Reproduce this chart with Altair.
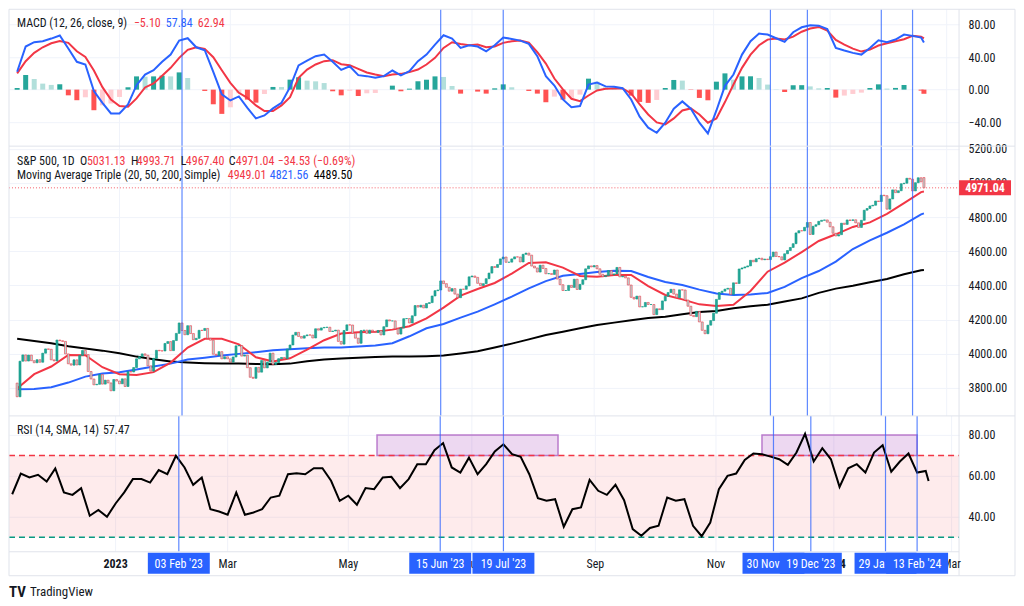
import altair as alt
import pandas as pd

FONT = "Liberation Sans Narrow, Arial Narrow, Roboto Condensed, DejaVu Sans Condensed, Roboto, sans-serif"
TXT = "#131722"
RED = "#F23645"
BLUE = "#2962FF"
GREEN = "#089981"
GRID = "#f0f3fa"
FRAME = "#e0e3eb"

W = 951
H_MACD, H_PRICE, H_RSI = 137, 270, 136
X_DOMAIN = [-1.11, 329.6]
MACD_DOMAIN = [-69.5, 98.8]
PRICE_DOMAIN = [3636, 5215]
RSI_DOMAIN = [22.9, 89.3]

HOLIDAYS = ["2022-11-24", "2022-12-26", "2023-01-02", "2023-01-16", "2023-02-20",
            "2023-04-07", "2023-05-29", "2023-06-19", "2023-07-04", "2023-09-04",
            "2023-11-23", "2023-12-25", "2024-01-01", "2024-01-15", "2024-02-19"]

# ---- daily closes (S&P 500), by month ----
CLOSE_NOV22 = [3748, 3956, 3993, 3957, 3992, 3959, 3947, 3965, 3950, 4003, 4028, 4026, 3964, 3958, 4080]
CLOSE_DEC22 = [4076, 4072, 3999, 3941, 3933, 3964, 3934, 3990, 4019, 3995, 3896, 3852, 3818, 3821, 3878,
               3822, 3845, 3829, 3783, 3849, 3840]
CLOSE_JAN23 = [3824, 3853, 3808, 3895, 3893, 3919, 3970, 3983, 3999, 3991, 3929, 3898, 3973, 4020, 4017,
               4016, 4060, 4071, 4018, 4077]
CLOSE_FEB23 = [4119, 4180, 4136, 4111, 4164, 4118, 4082, 4090, 4137, 4136, 4148, 4090, 4079, 3997, 3991,
               4012, 3970, 3982, 3970]
CLOSE_MAR23 = [3951, 3981, 4046, 4048, 3986, 3992, 3918, 3862, 3856, 3920, 3892, 3960, 3917, 3951, 4003,
               3937, 3948, 3971, 3978, 3971, 4027, 4051, 4109]
CLOSE_APR23 = [4125, 4101, 4091, 4105, 4110, 4109, 4092, 4146, 4138, 4151, 4154, 4155, 4130, 4133, 4138,
               4072, 4056, 4136, 4169]
CLOSE_MAY23 = [4168, 4120, 4091, 4061, 4136, 4138, 4119, 4138, 4130, 4124, 4136, 4110, 4158, 4198, 4192,
               4192, 4146, 4115, 4151, 4205, 4206, 4180]
CLOSE_JUN23 = [4222, 4282, 4273, 4284, 4268, 4294, 4299, 4338, 4369, 4373, 4426, 4410, 4389, 4366, 4381,
               4349, 4328, 4378, 4377, 4397, 4450]
CLOSE_JUL23 = [4455, 4447, 4412, 4399, 4410, 4439, 4472, 4510, 4505, 4522, 4555, 4566, 4535, 4536, 4555,
               4567, 4566, 4537, 4582, 4589]
CLOSE_AUG23 = [4577, 4513, 4502, 4478, 4518, 4499, 4468, 4469, 4464, 4490, 4437, 4404, 4370, 4370, 4400,
               4388, 4436, 4376, 4406, 4433, 4497, 4514, 4508]
CLOSE_SEP23 = [4516, 4497, 4465, 4451, 4457, 4487, 4462, 4467, 4505, 4450, 4454, 4444, 4402, 4330, 4320,
               4337, 4274, 4275, 4300, 4288]
CLOSE_OCT23 = [4288, 4229, 4263, 4258, 4309, 4336, 4358, 4377, 4349, 4328, 4374, 4373, 4314, 4278, 4224,
               4217, 4248, 4186, 4137, 4117, 4167, 4194]
CLOSE_NOV23 = [4237, 4318, 4358, 4366, 4378, 4383, 4347, 4415, 4411, 4496, 4502, 4508, 4514, 4547, 4538,
               4556, 4559, 4550, 4554, 4551, 4568]
CLOSE_DEC23 = [4595, 4569, 4567, 4549, 4585, 4604, 4622, 4644, 4707, 4720, 4719, 4740, 4768, 4698, 4746,
               4755, 4775, 4781, 4783, 4770]
CLOSE_JAN24 = [4743, 4705, 4689, 4697, 4764, 4757, 4783, 4780, 4784, 4766, 4739, 4781, 4840, 4850, 4865,
               4869, 4894, 4891, 4928, 4925, 4846]
CLOSE_FEB24 = [4906, 4959, 4943, 4954, 4995, 4998, 5027, 5022, 4953, 5001, 5030, 5006, 4971.04]
FIRST_OPEN = 3828
LAST_OPEN = 5031.13

MONTH_KEYS = ["2022-11", "2022-12", "2023-01", "2023-02", "2023-03", "2023-04", "2023-05", "2023-06",
              "2023-07", "2023-08", "2023-09", "2023-10", "2023-11", "2023-12", "2024-01", "2024-02"]
MONTH_CLOSES = [CLOSE_NOV22, CLOSE_DEC22, CLOSE_JAN23, CLOSE_FEB23, CLOSE_MAR23, CLOSE_APR23, CLOSE_MAY23,
                CLOSE_JUN23, CLOSE_JUL23, CLOSE_AUG23, CLOSE_SEP23, CLOSE_OCT23, CLOSE_NOV23, CLOSE_DEC23,
                CLOSE_JAN24, CLOSE_FEB24]

# ---- indicators read at every 3rd bar (plus the last bar) ----
MACD = [22, 53, 58.3, 59.5, 62.8, 66.5, 50.5, 34.2, 30.9, -1.8, -16.2, -29.2, -29.2, -18.2, 5.5, 18.6,
        23.9, 34.2, 43.1, 60.3, 63.2, 52.1, 48.5, 21.9, -5.9, -13.3, -8.4, -22.3, -35.4, -31.7, -23.1,
        -16.2, 3.1, 29.7, 35.8, 41.1, 43.1, 34.2, 24.3, 28.8, 17.8, 16.6, 14.5, 16.6, 23.5, 17.4, 22.7,
        35, 43.1, 55.4, 66.9, 62.8, 51.3, 54.6, 53, 47.2, 54.6, 64, 62.4, 60.3, 56.2, 41.1, 16.6, 5.1,
        -12.1, -21.5, -20.2, 6.3, 8.8, 4, 3.5, 1.8, -12.1, -33.3, -46.8, -53, -40.7, -23.5, -14.5, -23.5,
        -40.7, -53.8, -25.6, 4.7, 18.6, 43.1, 59.5, 68.9, 67.7, 63.2, 58.7, 70.6, 76.7, 79.1, 78.7, 74.6,
        51.3, 48.1, 45.2, 43.1, 51.3, 60.7, 58.3, 61.6, 67.7, 66.1, 64, 57.84]
SIGNAL = [20, 35, 45.2, 52.1, 57, 59.9, 57.5, 47.2, 40.3, 23.5, 3.1, -12.1, -20.2, -21.1, -10.8, 2.7,
          7.6, 17, 26.8, 39.1, 48.9, 52.1, 50.1, 39.9, 23.9, 8.4, -3.9, -10, -19.4, -26.4, -26.4, -19.4,
          -9.2, 14.5, 24.7, 30.9, 35, 36.2, 31.3, 30.1, 25.6, 21.1, 18.6, 16.6, 18.6, 19.4, 21.5, 24.7,
          30.9, 39.1, 51.3, 58.3, 56.2, 54.6, 55.4, 52.1, 53, 57.5, 59.5, 60.3, 57.8, 46, 32.1, 13.7, 0.2,
          -11.2, -14.1, -7.2, -1, 1.2, 1.4, 1.4, -4.7, -18.2, -30.5, -40.3, -42.7, -35.4, -25.6, -23.1,
          -30.5, -40.7, -35.4, -15.3, 6.3, 26.8, 43.1, 54.6, 61.5, 62.8, 61.6, 65.2, 71.2, 75.1, 77.1,
          72.6, 61.1, 55.4, 50.5, 46.8, 49.3, 54.2, 57, 59.5, 62, 66.1, 65.2, 62.94]
RSI = [51, 61.1, 59.2, 60.5, 57.2, 63.6, 51.9, 50.7, 54, 40.5, 43.3, 40, 46.5, 51.9, 58.4, 58.4, 56.7,
       62.8, 60.8, 69.8, 64.1, 55.6, 59.2, 43.7, 42.6, 41, 51.9, 41, 42.1, 43.7, 49.4, 50.3, 60.8, 61.3,
       60.8, 63.7, 63.7, 57.6, 47.8, 50.3, 45.9, 54, 53.5, 59.2, 59.5, 54, 58.4, 65.7, 65.7, 72.5, 76,
       64.1, 61.6, 68.9, 60.8, 65.7, 71.9, 75.4, 70.6, 69.3, 60.8, 49.1, 47.8, 48.6, 35.1, 43.7, 44.6, 58,
       52.7, 50.7, 55.6, 48.1, 34, 30.7, 34.5, 35.6, 49.4, 47.8, 48.6, 35.6, 30.5, 37.2, 53.5, 60, 61.1,
       67.8, 70.9, 70.6, 69.4, 68.1, 65.4, 71.4, 80.5, 67, 73.5, 68.1, 54.6, 63.7, 65.7, 61.6, 71.4, 75,
       62, 67, 70.9, 61.6, 62.4, 57.47]
IND_IDX = list(range(0, 319, 3)) + [319]

# ---- moving averages read at every 6th bar (plus the last bar) ----
MA20 = [3796, 3880, 3925, 3993, 3991, 3921, 3880, 3876, 3892, 3948, 4036, 4087, 4087, 4055, 3979, 3954,
        3973, 4024, 4079, 4118, 4126, 4129, 4141, 4161, 4207, 4270, 4340, 4379, 4414, 4469, 4531, 4535,
        4504, 4455, 4451, 4461, 4461, 4396, 4344, 4318, 4289, 4280, 4287, 4367, 4480, 4533, 4595, 4660,
        4699, 4742, 4769, 4819, 4882, 4946, 4949.01]
MA50 = [3792, 3794, 3804, 3831, 3866, 3884, 3892, 3907, 3925, 3942, 3966, 3977, 3989, 3999, 4009, 4020,
        4026, 4032, 4036, 4036, 4042, 4048, 4061, 4102, 4149, 4174, 4211, 4246, 4289, 4334, 4382, 4425,
        4456, 4467, 4478, 4486, 4484, 4449, 4420, 4402, 4375, 4352, 4344, 4346, 4356, 4391, 4443, 4484,
        4539, 4613, 4664, 4708, 4757, 4816, 4821.56]
MA200 = [4088, 4075, 4061, 4044, 4030, 4018, 4003, 3983, 3968, 3954, 3948, 3944, 3942, 3942, 3940, 3938,
         3942, 3956, 3966, 3972, 3977, 3981, 3983, 3983, 3985, 3989, 4001, 4014, 4036, 4059, 4084, 4110,
         4129, 4149, 4168, 4182, 4196, 4209, 4217, 4231, 4244, 4250, 4266, 4278, 4287, 4305, 4324, 4356,
         4381, 4398, 4418, 4437, 4465, 4488, 4489.50]
MA_IDX = list(range(0, 319, 6)) + [319]

MARK_DATES = ["2023-02-03", "2023-06-15", "2023-07-19", "2023-11-30", "2023-12-19", "2024-01-29", "2024-02-13"]
# text of each date tag as far as it is visible (later tags cover the end of earlier ones)
MARK_LABELS = ["03 Feb '23", "15 Jun '23", "19 Jul '23", "30 Nov", "19 Dec '23", "29 Ja", "13 Feb '24"]
MARK_ALIGN = ["center", "center", "center", "left", "center", "left", "center"]
MONTH_TICKS = ["2023-01-03", "2023-03-01", "2023-05-01", "2023-07-03", "2023-09-01", "2023-11-01",
               "2024-01-02", "2024-03-01"]
MONTH_TEXT = ["2023", "Mar", "May", "Jul", "Sep", "Nov", "2024", "Mar"]
ZONE_START = ["2023-05-15", "2023-11-24"]
ZONE_END = ["2023-08-15", "2024-02-13"]
ZONE_LOW, ZONE_HIGH = 70, 80
RSI_UPPER, RSI_LOWER = 70, 30
LAST_PRICE = 4971.04

# ---------------------------------------------------------------
days = pd.bdate_range("2022-11-09", "2024-03-05", freq="C", holidays=HOLIDAYS)
idx_of = {d.strftime("%Y-%m-%d"): i for i, d in enumerate(days)}

rows = []
for key, vals in zip(MONTH_KEYS, MONTH_CLOSES):
    ds = [d for d in days if d.strftime("%Y-%m") == key]
    for d, v in zip(ds, vals):
        rows.append((idx_of[d.strftime("%Y-%m-%d")], v))
candles = pd.DataFrame(rows, columns=["idx", "close"]).sort_values("idx").reset_index(drop=True)
opens = [FIRST_OPEN] + candles["close"].tolist()[:-1]
opens[-1] = LAST_OPEN
candles["open"] = opens
candles["dir"] = ["up" if c >= o else "down" for o, c in zip(candles["open"], candles["close"])]

ind = pd.DataFrame({"idx": IND_IDX, "macd": MACD, "signal": SIGNAL, "rsi": RSI})
ind["hist"] = ind["macd"] - ind["signal"]
cats = []
prev = None
for h in ind["hist"]:
    p = h if prev is None else prev
    if h >= 0:
        cats.append("gp" if h >= p else "lp")
    else:
        cats.append("rn" if h < p else "ln")
    prev = h
ind["hc"] = cats

mas = pd.DataFrame({"idx": MA_IDX, "ma20": MA20, "ma50": MA50, "ma200": MA200})
marks = pd.DataFrame({"idx": [idx_of[d] for d in MARK_DATES], "label": MARK_LABELS, "align": MARK_ALIGN})
months = pd.DataFrame({"idx": [idx_of[d] for d in MONTH_TICKS], "label": MONTH_TEXT,
                       "bold": [t.isdigit() for t in MONTH_TEXT]})
zones = pd.DataFrame({"i0": [idx_of[d] for d in ZONE_START], "i1": [idx_of[d] for d in ZONE_END],
                      "lo": [ZONE_LOW] * 2, "hi": [ZONE_HIGH] * 2})
ONE = pd.DataFrame({"k": [0]})

xs = alt.Scale(domain=X_DOMAIN, nice=False, zero=False)


def X(field="idx"):
    return alt.X(f"{field}:Q", scale=xs, axis=None)


def yaxis(values):
    return alt.Axis(orient="right", values=values, format=".2f", grid=True, gridColor=GRID,
                    domain=False, ticks=False, labelPadding=9, labelFont=FONT, labelFontSize=12,
                    labelColor=TXT, title=None, labelOverlap=False)


def txt(s, x, y, color=TXT, size=12, weight="normal", align="left"):
    return alt.Chart(ONE).mark_text(text=s, align=align, baseline="middle", font=FONT, fontSize=size,
                                    fontWeight=weight, color=color).encode(x=alt.value(x), y=alt.value(y))


def hrule(y, x1, x2, color=FRAME):
    return alt.Chart(ONE).mark_rule(color=color, strokeWidth=1).encode(
        x=alt.value(x1), x2=alt.value(x2), y=alt.value(y))


def vrule(x, y1, y2, color=FRAME):
    return alt.Chart(ONE).mark_rule(color=color, strokeWidth=1).encode(
        x=alt.value(x), y=alt.value(y1), y2=alt.value(y2))


def month_grid(h):
    return alt.Chart(months).mark_rule(color=GRID, strokeWidth=1).encode(
        x=X(), y=alt.value(0), y2=alt.value(h))


def mark_lines(h):
    return alt.Chart(marks).mark_rule(color=BLUE, strokeWidth=1.2, opacity=0.75).encode(
        x=X(), y=alt.value(0), y2=alt.value(h))


def frame(h):
    return [hrule(0, 0, 1007), vrule(0, 0, h), vrule(W, 0, h), vrule(1007, 0, h)]


# ---------------- MACD panel ----------------
ms = alt.Scale(domain=MACD_DOMAIN, nice=False, zero=False)
may = yaxis([-40, 0, 40, 80])
macd_layers = [
    month_grid(H_MACD),
    alt.Chart(ind).mark_bar(size=5, orient="vertical").encode(
        x=X(), y=alt.Y("hist:Q", scale=ms, axis=may), y2=alt.datum(0),
        color=alt.Color("hc:N", scale=alt.Scale(domain=["gp", "lp", "rn", "ln"],
                                                range=["#26A69A", "#B2DFDB", "#FF5252", "#FFCDD2"]),
                        legend=None)),
    alt.Chart(ind).mark_line(color=RED, strokeWidth=2).encode(x=X(), y=alt.Y("signal:Q", scale=ms, axis=may)),
    alt.Chart(ind).mark_line(color=BLUE, strokeWidth=2).encode(x=X(), y=alt.Y("macd:Q", scale=ms, axis=may)),
    mark_lines(H_MACD),
    *frame(H_MACD),
    txt("MACD (12, 26, close, 9)", 8, 14),
    txt(f"{MACD[-1] - SIGNAL[-1]:.2f}".replace("-", "\u2212"), 125, 14, RED),
    txt(f"{MACD[-1]:.2f}", 157, 14, BLUE),
    txt(f"{SIGNAL[-1]:.2f}", 189, 14, RED),
]
macd_panel = alt.layer(*macd_layers).properties(width=W, height=H_MACD)

# ---------------- Price panel ----------------
ps = alt.Scale(domain=PRICE_DOMAIN, nice=False, zero=False)
pay = yaxis([3800, 4000, 4200, 4400, 4600, 4800, 5000, 5200])
last_df = pd.DataFrame({"p": [LAST_PRICE]})
price_layers = [
    month_grid(H_PRICE),
    alt.Chart(last_df).mark_rule(color=RED, strokeDash=[1, 2], strokeWidth=1, opacity=0.8).encode(
        y=alt.Y("p:Q", scale=ps, axis=pay), x=alt.value(0), x2=alt.value(W)),
    alt.Chart(mas).mark_line(color="#000000", strokeWidth=2).encode(x=X(), y=alt.Y("ma200:Q", scale=ps, axis=pay)),
    alt.Chart(mas).mark_line(color=BLUE, strokeWidth=2).encode(x=X(), y=alt.Y("ma50:Q", scale=ps, axis=pay)),
    alt.Chart(mas).mark_line(color=RED, strokeWidth=2).encode(x=X(), y=alt.Y("ma20:Q", scale=ps, axis=pay)),
    alt.Chart(candles).mark_bar(size=2, orient="vertical", strokeWidth=0.6).encode(
        x=X(), y=alt.Y("open:Q", scale=ps, axis=pay), y2="close:Q",
        color=alt.Color("dir:N", scale=alt.Scale(domain=["up", "down"], range=[GREEN, RED]), legend=None),
        stroke=alt.Stroke("dir:N", scale=alt.Scale(domain=["up", "down"], range=[GREEN, RED]), legend=None)),
    mark_lines(H_PRICE),
    *frame(H_PRICE),
    alt.Chart(last_df).mark_rect(color=RED, yOffset=-7.5, y2Offset=7.5).encode(
        x=alt.value(W), x2=alt.value(1003), y=alt.Y("p:Q", scale=ps, axis=pay), y2="p:Q"),
    alt.Chart(last_df).mark_text(color="white", font=FONT, fontSize=12, fontWeight="bold",
                                 align="center", baseline="middle").encode(
        x=alt.value(977), y=alt.Y("p:Q", scale=ps, axis=pay), text=alt.Text("p:Q", format=".2f")),
    txt("S&P 500, 1D", 8, 15),
    txt("O", 71, 15), txt(f"{LAST_OPEN:.2f}", 78, 15, RED),
    txt("H", 122, 15), txt("4993.71", 128, 15, RED),
    txt("L", 172, 15), txt("4967.40", 177, 15, RED),
    txt("C", 220, 15), txt(f"{LAST_PRICE:.2f}", 227, 15, RED),
    txt("\u221234.53 (\u22120.69%)", 269, 15, RED),
    txt("Moving Average Triple (20, 50, 200, Simple)", 8, 29),
    txt(f"{MA20[-1]:.2f}", 219, 29, RED),
    txt(f"{MA50[-1]:.2f}", 261, 29, BLUE),
    txt(f"{MA200[-1]:.2f}", 305, 29, "#000000"),
]
price_panel = alt.layer(*price_layers).properties(width=W, height=H_PRICE)

# ---------------- RSI panel ----------------
rs = alt.Scale(domain=RSI_DOMAIN, nice=False, zero=False)
ray = yaxis([40, 60, 80])
band_df = pd.DataFrame({"lo": [RSI_LOWER], "hi": [RSI_UPPER]})
rsi_layers = [
    month_grid(H_RSI),
    alt.Chart(band_df).mark_rect(color=RED, opacity=0.1).encode(
        x=alt.value(0), x2=alt.value(W), y=alt.Y("lo:Q", scale=rs, axis=ray), y2="hi:Q"),
    alt.Chart(zones).mark_rect(color="#9C27B0", opacity=0.18).encode(
        x=X("i0"), x2="i1:Q", y=alt.Y("lo:Q", scale=rs, axis=ray), y2="hi:Q"),
    alt.Chart(zones).mark_rect(fill=None, stroke="#B46FC8", strokeWidth=1.5, strokeOpacity=0.9).encode(
        x=X("i0"), x2="i1:Q", y=alt.Y("lo:Q", scale=rs, axis=ray), y2="hi:Q"),
    alt.Chart(band_df).mark_rule(color=RED, strokeDash=[6, 4], strokeWidth=1.5).encode(
        y=alt.Y("hi:Q", scale=rs, axis=ray), x=alt.value(0), x2=alt.value(W)),
    alt.Chart(band_df).mark_rule(color=GREEN, strokeDash=[6, 4], strokeWidth=1.5).encode(
        y=alt.Y("lo:Q", scale=rs, axis=ray), x=alt.value(0), x2=alt.value(W)),
    alt.Chart(ind).mark_line(color="#000000", strokeWidth=2).encode(x=X(), y=alt.Y("rsi:Q", scale=rs, axis=ray)),
    mark_lines(H_RSI),
    *frame(H_RSI),
    hrule(H_RSI, 0, W), vrule(0, H_RSI, 160), vrule(W, H_RSI, 160), vrule(1007, H_RSI, 160),
    hrule(160, 0, 1007),
    alt.Chart(months[~months["bold"]]).mark_text(font=FONT, fontSize=12, color=TXT, baseline="middle").encode(
        x=X(), y=alt.value(148), text="label:N"),
    alt.Chart(months[months["bold"]]).mark_text(font=FONT, fontSize=12, color=TXT, baseline="middle",
                                                fontWeight="bold").encode(
        x=X(), y=alt.value(148), text="label:N"),
]
for i, lab, al in zip(marks["idx"], marks["label"], marks["align"]):
    one = pd.DataFrame({"idx": [int(i)], "label": [lab]})
    rsi_layers.append(alt.Chart(one).mark_rect(color=BLUE, xOffset=-31, x2Offset=31).encode(
        x=X(), x2="idx:Q", y=alt.value(137), y2=alt.value(158)))
    if al == "left":
        tm = alt.Chart(one).mark_text(font=FONT, fontSize=12, color="white", baseline="middle",
                                      align="left", dx=-27)
    else:
        tm = alt.Chart(one).mark_text(font=FONT, fontSize=12, color="white", baseline="middle")
    rsi_layers.append(tm.encode(x=X(), y=alt.value(148), text="label:N"))
rsi_layers += [
    txt("RSI (14, SMA, 14)", 8, 14),
    txt(f"{RSI[-1]:.2f}", 94, 14),
    txt("TV", 0, 176, TXT, size=15, weight="bold"),
    txt("TradingView", 21, 176, TXT, size=13),
]
rsi_panel = alt.layer(*rsi_layers).properties(width=W, height=H_RSI)

chart = alt.vconcat(macd_panel, price_panel, rsi_panel, spacing=0, bounds="flush").properties(
    padding=0, background="white").configure_view(stroke=None)

chart.save("out.html", embed_options={"renderer": "svg", "actions": False})
